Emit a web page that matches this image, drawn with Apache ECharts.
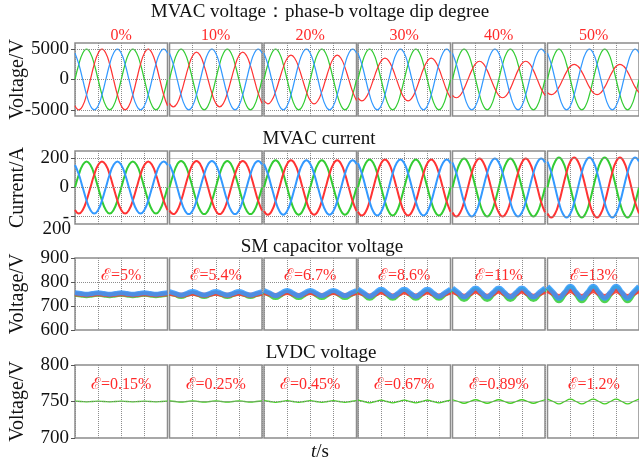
<!DOCTYPE html>
<html>
<head>
<meta charset="utf-8">
<title>MVAC voltage dip waveforms</title>
<script src="https://cdn.jsdelivr.net/npm/echarts@6.0.0/dist/echarts.min.js"></script>
<style>
  html, body { margin: 0; padding: 0; background: #fff; }
  #chart { width: 639px; height: 464px; }
</style>
</head>
<body>
<div id="chart"></div>
<script>
// sample positions, electrical degrees of the fundamental (two cycles per panel)
const phaseDeg = [0, 30, 60, 90, 120, 150, 180, 210, 240, 270, 300, 330, 360, 390, 420, 450, 480, 510, 540, 570, 600, 630, 660, 690, 720];
const rippleDeg = [0, 45, 90, 135, 180, 225, 270, 315, 360, 405, 450, 495, 540, 585, 630, 675, 720];

const dipDegree = ['0%', '10%', '20%', '30%', '40%', '50%'];
const smRipple = ['5%', '5.4%', '6.7%', '8.6%', '11%', '13%'];
const lvdcRipple = ['0.15%', '0.25%', '0.45%', '0.67%', '0.89%', '1.2%'];

// MVAC voltage (V): phases a and c stay the same, phase b dips
const vaGreen = [0, 2500, 4330, 5000, 4330, 2500, 0, -2500, -4330, -5000, -4330, -2500, 0, 2500, 4330, 5000, 4330, 2500, 0, -2500, -4330, -5000, -4330, -2500, 0];
const vcBlue = [4330, 2500, 0, -2500, -4330, -5000, -4330, -2500, 0, 2500, 4330, 5000, 4330, 2500, 0, -2500, -4330, -5000, -4330, -2500, 0, 2500, 4330, 5000, 4330];
const vbRed = [
  [-4330, -5000, -4330, -2500, 0, 2500, 4330, 5000, 4330, 2500, 0, -2500, -4330, -5000, -4330, -2500, 0, 2500, 4330, 5000, 4330, 2500, 0, -2500, -4330],
  [-3900, -4500, -3900, -2250, 0, 2250, 3900, 4500, 3900, 2250, 0, -2250, -3900, -4500, -3900, -2250, 0, 2250, 3900, 4500, 3900, 2250, 0, -2250, -3900],
  [-3460, -4000, -3460, -2000, 0, 2000, 3460, 4000, 3460, 2000, 0, -2000, -3460, -4000, -3460, -2000, 0, 2000, 3460, 4000, 3460, 2000, 0, -2000, -3460],
  [-3030, -3500, -3030, -1750, 0, 1750, 3030, 3500, 3030, 1750, 0, -1750, -3030, -3500, -3030, -1750, 0, 1750, 3030, 3500, 3030, 1750, 0, -1750, -3030],
  [-2600, -3000, -2600, -1500, 0, 1500, 2600, 3000, 2600, 1500, 0, -1500, -2600, -3000, -2600, -1500, 0, 1500, 2600, 3000, 2600, 1500, 0, -1500, -2600],
  [-2170, -2500, -2170, -1250, 0, 1250, 2170, 2500, 2170, 1250, 0, -1250, -2170, -2500, -2170, -1250, 0, 1250, 2170, 2500, 2170, 1250, 0, -1250, -2170]
];

// MVAC current (A)
const iaGreen = [
  [0, 89, 154, 178, 154, 89, 0, -89, -154, -178, -154, -89, 0, 89, 154, 178, 154, 89, 0, -89, -154, -178, -154, -89, 0],
  [0, 91, 158, 182, 158, 91, 0, -91, -158, -182, -158, -91, 0, 91, 158, 182, 158, 91, 0, -91, -158, -182, -158, -91, 0],
  [0, 93, 161, 186, 161, 93, 0, -93, -161, -186, -161, -93, 0, 93, 161, 186, 161, 93, 0, -93, -161, -186, -161, -93, 0],
  [0, 96, 166, 192, 166, 96, 0, -96, -166, -192, -166, -96, 0, 96, 166, 192, 166, 96, 0, -96, -166, -192, -166, -96, 0],
  [0, 99, 171, 198, 171, 99, 0, -99, -171, -198, -171, -99, 0, 99, 171, 198, 171, 99, 0, -99, -171, -198, -171, -99, 0],
  [0, 103, 178, 206, 178, 103, 0, -103, -178, -206, -178, -103, 0, 103, 178, 206, 178, 103, 0, -103, -178, -206, -178, -103, 0]
];
const ibRed = [
  [-154, -178, -154, -89, 0, 89, 154, 178, 154, 89, 0, -89, -154, -178, -154, -89, 0, 89, 154, 178, 154, 89, 0, -89, -154],
  [-158, -182, -158, -91, 0, 91, 158, 182, 158, 91, 0, -91, -158, -182, -158, -91, 0, 91, 158, 182, 158, 91, 0, -91, -158],
  [-161, -186, -161, -93, 0, 93, 161, 186, 161, 93, 0, -93, -161, -186, -161, -93, 0, 93, 161, 186, 161, 93, 0, -93, -161],
  [-166, -192, -166, -96, 0, 96, 166, 192, 166, 96, 0, -96, -166, -192, -166, -96, 0, 96, 166, 192, 166, 96, 0, -96, -166],
  [-171, -198, -171, -99, 0, 99, 171, 198, 171, 99, 0, -99, -171, -198, -171, -99, 0, 99, 171, 198, 171, 99, 0, -99, -171],
  [-178, -206, -178, -103, 0, 103, 178, 206, 178, 103, 0, -103, -178, -206, -178, -103, 0, 103, 178, 206, 178, 103, 0, -103, -178]
];
const icBlue = [
  [154, 89, 0, -89, -154, -178, -154, -89, 0, 89, 154, 178, 154, 89, 0, -89, -154, -178, -154, -89, 0, 89, 154, 178, 154],
  [158, 91, 0, -91, -158, -182, -158, -91, 0, 91, 158, 182, 158, 91, 0, -91, -158, -182, -158, -91, 0, 91, 158, 182, 158],
  [161, 93, 0, -93, -161, -186, -161, -93, 0, 93, 161, 186, 161, 93, 0, -93, -161, -186, -161, -93, 0, 93, 161, 186, 161],
  [166, 96, 0, -96, -166, -192, -166, -96, 0, 96, 166, 192, 166, 96, 0, -96, -166, -192, -166, -96, 0, 96, 166, 192, 166],
  [171, 99, 0, -99, -171, -198, -171, -99, 0, 99, 171, 198, 171, 99, 0, -99, -171, -198, -171, -99, 0, 99, 171, 198, 171],
  [178, 103, 0, -103, -178, -206, -178, -103, 0, 103, 178, 206, 178, 103, 0, -103, -178, -206, -178, -103, 0, 103, 178, 206, 178]
];

// SM capacitor voltage (V), second-harmonic ripple
const smGreen = [
  [749, 746, 743, 746, 749, 746, 743, 746, 749, 746, 743, 746, 749, 746, 743, 746, 749],
  [754, 747, 740, 747, 754, 747, 740, 747, 754, 747, 740, 747, 754, 747, 740, 747, 754],
  [759, 747, 735, 747, 759, 747, 735, 747, 759, 747, 735, 747, 759, 747, 735, 747, 759],
  [764, 748, 732, 748, 764, 748, 732, 748, 764, 748, 732, 748, 764, 748, 732, 748, 764],
  [769, 748, 727, 748, 769, 748, 727, 748, 769, 748, 727, 748, 769, 748, 727, 748, 769],
  [776, 749, 722, 749, 776, 749, 722, 749, 776, 749, 722, 749, 776, 749, 722, 749, 776]
];
const smRed = [
  [751, 749, 747, 749, 751, 749, 747, 749, 751, 749, 747, 749, 751, 749, 747, 749, 751],
  [753, 749, 745, 749, 753, 749, 745, 749, 753, 749, 745, 749, 753, 749, 745, 749, 753],
  [756, 750, 744, 750, 756, 750, 744, 750, 756, 750, 744, 750, 756, 750, 744, 750, 756],
  [758, 750, 742, 750, 758, 750, 742, 750, 758, 750, 742, 750, 758, 750, 742, 750, 758],
  [761, 751, 741, 751, 761, 751, 741, 751, 761, 751, 741, 751, 761, 751, 741, 751, 761],
  [764, 752, 740, 752, 764, 752, 740, 752, 764, 752, 740, 752, 764, 752, 740, 752, 764]
];
const smBlue = [
  [755, 752, 749, 752, 755, 752, 749, 752, 755, 752, 749, 752, 755, 752, 749, 752, 755],
  [760, 753, 746, 753, 760, 753, 746, 753, 760, 753, 746, 753, 760, 753, 746, 753, 760],
  [765, 754, 743, 754, 765, 754, 743, 754, 765, 754, 743, 754, 765, 754, 743, 754, 765],
  [770, 755, 740, 755, 770, 755, 740, 755, 770, 755, 740, 755, 770, 755, 740, 755, 770],
  [775, 756, 737, 756, 775, 756, 737, 756, 775, 756, 737, 756, 775, 756, 737, 756, 775],
  [782, 757, 732, 757, 782, 757, 732, 757, 782, 757, 732, 757, 782, 757, 732, 757, 782]
];

// LVDC voltage (V)
const lvdcVolt = [
  [750.4, 750, 749.6, 750, 750.4, 750, 749.6, 750, 750.4, 750, 749.6, 750, 750.4, 750, 749.6, 750, 750.4],
  [750.7, 750, 749.3, 750, 750.7, 750, 749.3, 750, 750.7, 750, 749.3, 750, 750.7, 750, 749.3, 750, 750.7],
  [751.2, 750, 748.8, 750, 751.2, 750, 748.8, 750, 751.2, 750, 748.8, 750, 751.2, 750, 748.8, 750, 751.2],
  [751.8, 750, 748.2, 750, 751.8, 750, 748.2, 750, 751.8, 750, 748.2, 750, 751.8, 750, 748.2, 750, 751.8],
  [752.4, 750, 747.6, 750, 752.4, 750, 747.6, 750, 752.4, 750, 747.6, 750, 752.4, 750, 747.6, 750, 752.4],
  [753.3, 750, 746.7, 750, 753.3, 750, 746.7, 750, 753.3, 750, 746.7, 750, 753.3, 750, 746.7, 750, 753.3]
];

const SERIF = '"Liberation Serif", "Times New Roman", "DejaVu Serif", serif';
const RED = '#ff3333', GREEN = '#33cc33', BLUE = '#3399ff';
const FRAME = '#8c8c8c';
const colLeft = [75, 169.5, 264, 358, 452.5, 547.5];
const panelW = 92.5;
const plain = v => String(v);

const rows = [
  { top: 43, height: 73, min: -6000, max: 6000, ticks: [-5000, 0, 5000], grid: [-5000, 0, 5000],
    name: 'Voltage/V', xs: phaseDeg, width: 1.2, opacity: 1, fmt: plain,
    lines: c => [[vaGreen, GREEN], [vbRed[c], RED], [vcBlue, BLUE]] },
  { top: 151, height: 73, min: -250, max: 250, ticks: [-200, 0, 200], grid: [-200, 0, 200],
    name: 'Current/A', xs: phaseDeg, width: 2, opacity: 1,
    fmt: v => (v === -200 ? '-' : String(v)),
    lines: c => [[iaGreen[c], GREEN], [ibRed[c], RED], [icBlue[c], BLUE]] },
  { top: 258, height: 72, min: 600, max: 900, ticks: [600, 700, 800, 900], grid: [700, 800],
    name: 'Voltage/V', xs: rippleDeg, width: 5, opacity: 0.85, fmt: plain,
    lines: c => [[smGreen[c], GREEN], [smRed[c], RED], [smBlue[c], BLUE]] },
  { top: 365, height: 73, min: 700, max: 800, ticks: [700, 750, 800], grid: [750],
    name: 'Voltage/V', xs: rippleDeg, width: 1.3, opacity: 1, fmt: plain,
    lines: c => [[lvdcVolt[c], '#44cc22']] }
];

const grids = [], xAxes = [], yAxes = [], series = [];

rows.forEach(row => {
  colLeft.forEach((left, c) => {
    const g = grids.length;
    grids.push({
      left: left, top: row.top, width: panelW, height: row.height,
      show: true, borderColor: FRAME, borderWidth: 1.5
    });
    xAxes.push({
      gridIndex: g, type: 'value', min: 0, max: 720, interval: 180,
      axisLine: { show: false }, axisTick: { show: false }, axisLabel: { show: false },
      splitLine: { show: true, lineStyle: { type: 'dotted', color: FRAME, width: 1 } }
    });
    yAxes.push({
      gridIndex: g, type: 'value', min: row.min, max: row.max,
      axisLine: { show: false },
      splitLine: { show: false },
      axisTick: { show: c === 0, length: 4, customValues: row.ticks, lineStyle: { color: '#555' } },
      axisLabel: {
        show: c === 0, customValues: row.ticks, margin: 6, formatter: row.fmt,
        fontFamily: SERIF, fontSize: 19, color: '#111'
      },
      name: c === 0 ? row.name : '',
      nameLocation: 'middle', nameGap: 47, nameMoveOverlap: false,
      nameTextStyle: { fontFamily: SERIF, fontSize: 20, color: '#111' }
    });
    // dotted horizontal reference lines
    series.push({
      type: 'line', xAxisIndex: g, yAxisIndex: g, data: [], z: 1, silent: true,
      markLine: {
        silent: true, symbol: 'none', label: { show: false }, animation: false,
        lineStyle: { type: 'dotted', color: FRAME, width: 1 },
        data: row.grid.map(v => ({ yAxis: v }))
      }
    });
    row.lines(c).forEach(([vals, color]) => {
      series.push({
        type: 'line', xAxisIndex: g, yAxisIndex: g, z: 2,
        data: row.xs.map((x, i) => [x, vals[i]]),
        smooth: true, symbol: 'none', silent: true,
        lineStyle: { color: color, width: row.width, opacity: row.opacity },
        itemStyle: { color: color }
      });
    });
  });
});

function txt(text, x, y, size, fill, extra) {
  return {
    type: 'text', x: x, y: y, silent: true,
    style: Object.assign({
      text: text, font: size + 'px ' + SERIF, fill: fill,
      align: 'center', verticalAlign: 'middle'
    }, extra || {})
  };
}

const graphics = [
  txt('MVAC voltage：phase-b voltage dip degree', 320, 12, 19, '#111'),
  txt('MVAC current', 319, 139, 19, '#111'),
  txt('SM capacitor voltage', 322, 247, 19, '#111'),
  txt('LVDC voltage', 321, 353, 19, '#111'),
  txt('{i|t}/s', 320, 452, 19, '#111', { rich: { i: { font: 'italic 19px ' + SERIF, fill: '#111' } } }),
  // second line of the "-200" tick label
  txt('200', 71, 229, 19, '#111', { align: 'right' })
];
colLeft.forEach((left, c) => {
  const cx = left + panelW / 2;
  graphics.push(txt(dipDegree[c], cx, 36, 16, '#ff2a2a'));
  graphics.push(txt('ℰ=' + smRipple[c], cx, 276, 16, '#ff2a2a'));
  graphics.push(txt('ℰ=' + lvdcRipple[c], cx, 385, 16, '#ff2a2a'));
});

const chart = echarts.init(document.getElementById('chart'));
chart.setOption({
  animation: false,
  backgroundColor: '#fff',
  grid: grids,
  xAxis: xAxes,
  yAxis: yAxes,
  series: series,
  graphic: graphics
});
</script>
</body>
</html>
